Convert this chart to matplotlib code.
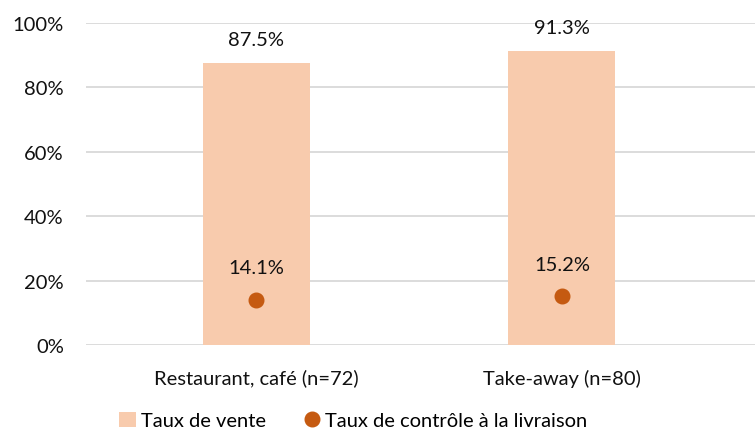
import matplotlib.pyplot as plt
from matplotlib.lines import Line2D
from matplotlib.patches import Patch

# -----------------------------
# Data
# -----------------------------
categories = ["Restaurant, café (n=72)", "Take-away (n=80)"]
taux_vente = [87.5, 91.3]
taux_controle = [14.1, 15.2]
y_ticks = [0, 20, 40, 60, 80, 100]

BAR_COLOR = "#F8CBAD"
DOT_COLOR = "#C55A11"
GRID_COLOR = "#D9D9D9"
TEXT_COLOR = "#111111"
FS = 14.5

plt.rcParams["font.family"] = ["Lato", "DejaVu Sans"]

fig = plt.figure(figsize=(7.55, 4.39), dpi=100)
ax = fig.add_axes([0.1139, 0.2118, 0.886, 0.7335])

x = list(range(len(categories)))
ax.bar(x, taux_vente, width=0.35, color=BAR_COLOR, zorder=2)
ax.plot(x, taux_controle, linestyle="none", marker="o", markersize=10.5,
        color=DOT_COLOR, zorder=3)

for xi, v in zip(x, taux_vente):
    ax.annotate(f"{v:.1f}%", (xi, v), xytext=(0, 17), textcoords="offset points",
                ha="center", va="center", fontsize=FS, color=TEXT_COLOR)
for xi, v in zip(x, taux_controle):
    ax.annotate(f"{v:.1f}%", (xi, v), xytext=(0, 23), textcoords="offset points",
                ha="center", va="center", fontsize=FS, color=TEXT_COLOR)

ax.set_xlim(-0.556, 1.631)
ax.set_ylim(0, 100)
ax.set_yticks(y_ticks)
ax.set_yticklabels([f"{t}%" for t in y_ticks])
ax.set_xticks(x)
ax.set_xticklabels(categories)
ax.tick_params(axis="y", length=0, pad=16, labelsize=FS, labelcolor=TEXT_COLOR)
ax.tick_params(axis="x", length=0, pad=17, labelsize=FS, labelcolor=TEXT_COLOR)

ax.grid(axis="y", color=GRID_COLOR, linewidth=1.3, zorder=0)
ax.set_axisbelow(True)
for s in ax.spines.values():
    s.set_visible(False)

handles = [
    Patch(facecolor=BAR_COLOR, edgecolor="none", label="Taux de vente"),
    Line2D([], [], linestyle="none", marker="o", markersize=10.5, color=DOT_COLOR,
           label="Taux de contrôle à la livraison"),
]
fig.legend(handles=handles, loc="center", bbox_to_anchor=(0.468, 0.04), ncol=2,
           frameon=False, fontsize=FS, handlelength=0.8, handletextpad=0.25,
           columnspacing=1.9, handleheight=0.8)

fig.savefig("out.png", dpi=100)
